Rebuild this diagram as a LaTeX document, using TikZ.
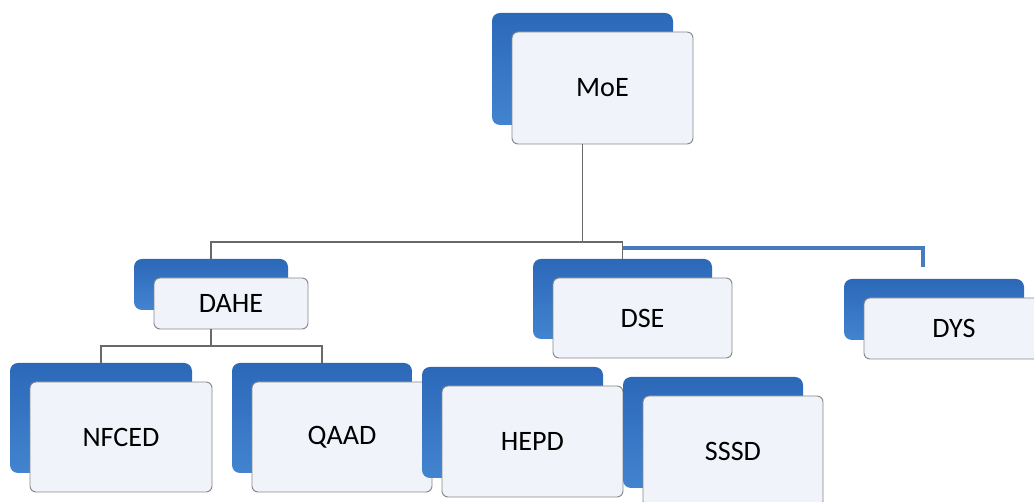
\documentclass[tikz,border=0pt]{standalone}
\usepackage{fontspec}
\setmainfont{Carlito}
\usetikzlibrary{positioning,calc}
\definecolor{blueTop}{RGB}{44,104,184}
\definecolor{blueBot}{RGB}{66,132,208}
\definecolor{unitTint}{RGB}{240,244,250}
\definecolor{connGray}{RGB}{105,105,105}
\definecolor{dysBlue}{RGB}{72,122,192}
\tikzset{
  backbox/.style={rectangle,rounded corners=1.6mm,top color=blueTop,
    bottom color=blueBot,inner sep=0pt,outer sep=0pt,anchor=north west},
  unitbox/.style={rectangle,draw=connGray!80,line width=0.55pt,fill=unitTint,
    rounded corners=1.2mm,inner sep=0pt,outer sep=0pt,anchor=north west,
    font=\fontsize{16}{18}\selectfont},
  conn/.style={connGray,line width=0.6pt},
  dysconn/.style={dysBlue,line width=2pt},
}

\begin{document}
\begin{tikzpicture}[x=0.2mm,y=-0.2mm]
  \useasboundingbox (0,0) rectangle (1034,502);
  \clip (0,0) rectangle (1034,502);
  % blue back plate, then the labelled card shifted down-right
  \foreach \nm/\lbl/\xx/\yy/\ww/\hh in {moe/MoE/492/13/181/112,
                                        dahe/DAHE/134/259/154/51,
                                        dse/DSE/533/259/179/80,
                                        dys/DYS/844/279/180/61,
                                        nfced/NFCED/10/363/182/110,
                                        qaad/QAAD/232/363/180/110,
                                        hepd/HEPD/422/367/181/111,
                                        sssd/SSSD/623/377/180/111} {
    \node[backbox,minimum width=\ww*0.2mm,minimum height=\hh*0.2mm]
      (\nm-b) at (\xx,\yy) {};
    \node[unitbox,minimum width=\ww*0.2mm,minimum height=\hh*0.2mm]
      (\nm) at (\xx+20,\yy+19) {\lbl};
  }
  \coordinate (bus) at (0,242);
  \coordinate (busdys) at (0,248);
  \coordinate (busdahe) at (0,346);
  \coordinate (dystip) at (923,267);
  \draw[conn] (moe-b |- moe.south) -- (moe-b |- bus);
  \draw[conn] (dahe-b.north) |- (dse-b.north |- bus) -- (dse-b.north);
  \draw[dysconn] (dse-b.north |- busdys) -| (dystip);
  \draw[conn] (dahe-b |- dahe.south) -- (dahe-b |- busdahe);
  \draw[conn] (nfced-b.north) |- (qaad-b.north |- busdahe) -- (qaad-b.north);
\end{tikzpicture}
\end{document}
